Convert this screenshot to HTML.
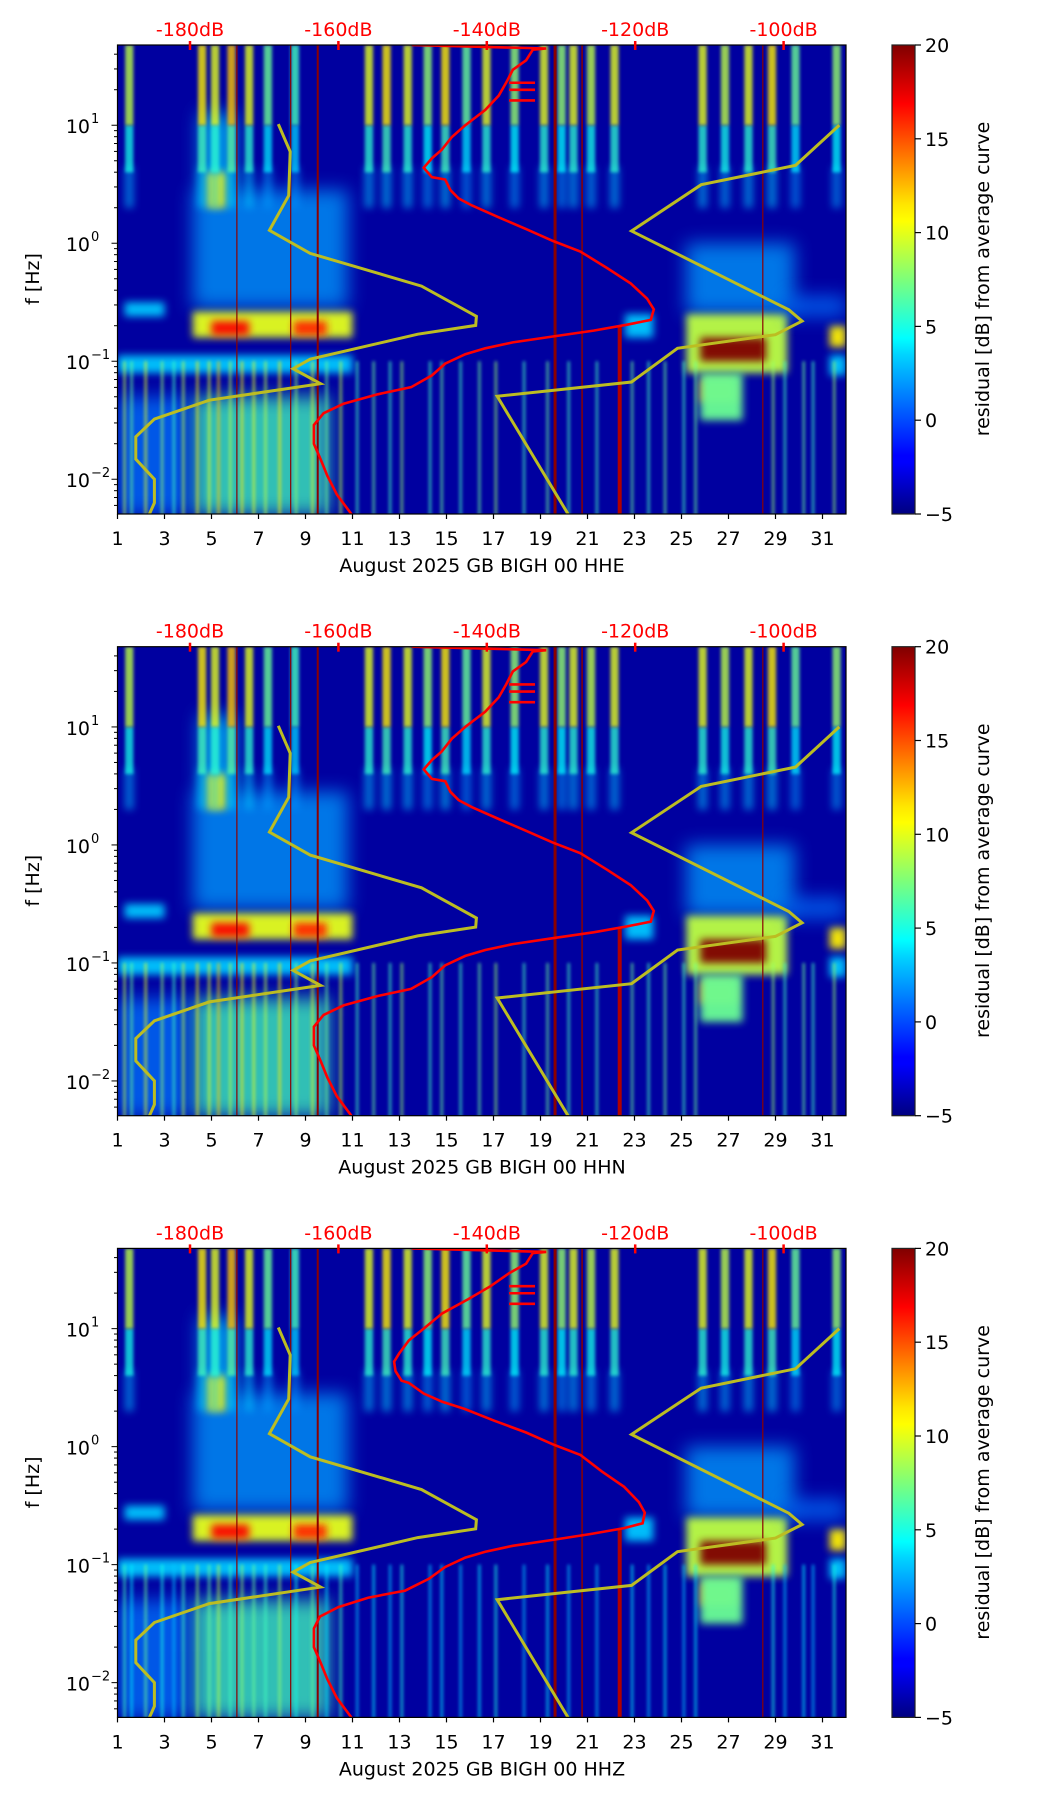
<!DOCTYPE html>
<html><head><meta charset="utf-8"><style>
html,body{margin:0;padding:0;background:#fff}
svg{display:block;font-family:"DejaVu Sans","Liberation Sans",sans-serif}
</style></head><body>
<svg id="chart" width="1052" height="1806" viewBox="0 0 1052 1806" xmlns="http://www.w3.org/2000/svg">
<defs>
<filter id="blurH" filterUnits="userSpaceOnUse" x="0" y="0" width="1052" height="1806"><feGaussianBlur stdDeviation="9"/></filter>
<filter id="blurM" filterUnits="userSpaceOnUse" x="0" y="0" width="1052" height="1806"><feGaussianBlur stdDeviation="4"/></filter>
<filter id="blurS" filterUnits="userSpaceOnUse" x="0" y="0" width="1052" height="1806"><feGaussianBlur stdDeviation="1.5"/></filter>
<linearGradient id="jet" x1="0" y1="1" x2="0" y2="0">
<stop offset="0" stop-color="#000080"/><stop offset="0.11" stop-color="#0000ff"/><stop offset="0.125" stop-color="#0000ff"/>
<stop offset="0.34" stop-color="#00d4ff"/><stop offset="0.375" stop-color="#00ffff"/><stop offset="0.5" stop-color="#7dff7a"/>
<stop offset="0.625" stop-color="#ffff00"/><stop offset="0.66" stop-color="#ffe600"/><stop offset="0.875" stop-color="#ff0000"/><stop offset="1" stop-color="#800000"/>
</linearGradient>
</defs>
</svg>
<script>
// ---- data ----
const channels = ["HHE", "HHN", "HHZ"];
const dayTicks = [1,3,5,7,9,11,13,15,17,19,21,23,25,27,29,31];
const dbTicks = [-180,-160,-140,-120,-100];
const freqDecades = [1,0,-1,-2];
const cbTicks = [-5,0,5,10,15,20];
// high-frequency cultural noise streaks (days, residual dB)
const topStreakDays = [1.5,4.6,5.15,5.85,6.6,7.4,8.55,11.7,12.45,13.35,14.2,14.95,15.85,16.7,17.9,19.15,19.9,20.4,21.15,22.15,25.9,26.85,27.85,28.85,29.85,31.6];
const topStreakVals = [9,11,10,12,10,7,6,10,11,10,8,11,7,10,8,10,8,10,9,10,10,9,10,11,7,8];
// low-frequency thin streaks
const lowStreakDays = [1.3,1.6,2.2,2.9,3.4,3.8,4.4,4.9,5.3,5.8,6.3,6.8,7.3,7.9,8.6,9.3,9.9,10.5,11.2,11.9,12.6,13.1,14.3,14.8,15.6,16.4,17.1,18.3,19.3,20.2,21.4,22.9,23.6,24.3,25.1,25.6,28.9,29.4,30.2,30.6,31.5];
const lowStreakVals = [9,7,10,8,6,9,11,10,12,9,11,10,9,11,8,10,7,9,6,7,6,8,6,7,6,7,8,6,7,6,6,7,6,7,6,7,8,6,7,6,8];
// residual blobs: day start, day end, log10 f low, log10 f high, residual dB
const blobDay0 = [4.2,4.5,4.8,1.3,1.0,4.2,5.0,8.5,4.2,1.0,25.2,25.2,25.8,25.8,25.8,31.3,31.3,22.6,29.5];
const blobDay1 = [10.8,6.0,5.6,3.0,11.0,11.0,6.6,9.9,10.0,4.0,29.8,29.5,28.6,27.3,27.6,32.0,32.0,23.8,32.0];
const blobF0 =   [-0.55,0.4,0.3,-0.62,-1.1,-0.8,-0.78,-0.78,-2.3,-2.3,-0.6,-1.1,-1.0,-1.35,-1.5,-0.88,-1.12,-0.8,-0.62];
const blobF1 =   [0.45,1.1,0.6,-0.5,-0.95,-0.58,-0.66,-0.66,-1.3,-1.3,0.0,-0.6,-0.8,-1.15,-1.1,-0.7,-0.95,-0.6,-0.45];
const blobVal =  [2,3,11,3,3,10,17,16,6,1,2,9,21,14,7,11,3,3,1];
const blobBlur = ["H","H","M","M","M","M","M","M","H","H","H","M","M","M","M","M","M","M","H"];
// dark red vertical artefact lines
const lineDays = [6.08,8.37,9.52,19.62,20.77,28.46];
const lineWidths = [1.2,1.2,2,3,1.5,1.2];
// NLNM / NHNM (dB, log10 f)
const nlnmDb = [-168.1,-166.5,-166.7,-169.3,-163.8,-148.8,-141.4,-141.5,-149.3,-163.8,-166.1,-162.4,-177.4,-184.8,-187.3,-187.3,-184.8,-184.8,-185.5];
const nlnmF =  [1.01,0.777,0.404,0.11,-0.086,-0.363,-0.619,-0.696,-0.771,-0.983,-1.063,-1.19,-1.33,-1.49,-1.64,-1.83,-2.0,-2.2,-2.3];
const nhnmDb = [-92.5,-98.4,-111.1,-120.5,-99.3,-97.5,-101.1,-114.3,-120.5,-138.6,-129.0];
const nhnmF =  [1.0,0.66,0.496,0.104,-0.564,-0.66,-0.775,-0.89,-1.176,-1.297,-2.3];
// mean PSD curves (dB, log10 f)
const psdDb = [-150.1,-132.0,-133.8,-134.7,-136.5,-137.4,-138.4,-140.2,-142.9,-144.7,-146.1,-147.4,-148.5,-147.4,-145.6,-144.9,-143.8,-142.0,-138.4,-134.7,-131.1,-127.4,-123.8,-120.6,-118.4,-117.5,-117.9,-121.1,-125.6,-131.1,-136.5,-140.2,-142.9,-145.6,-147.4,-150.2,-154.7,-159.3,-162.0,-163.3,-163.3,-162.4,-161.5,-160.2,-158.2];
const psdF =  [1.68,1.65,1.64,1.55,1.47,1.36,1.25,1.13,1.0,0.90,0.79,0.72,0.64,0.56,0.54,0.45,0.38,0.32,0.22,0.12,0.02,-0.07,-0.21,-0.34,-0.47,-0.56,-0.65,-0.69,-0.74,-0.79,-0.84,-0.89,-0.94,-1.02,-1.12,-1.22,-1.28,-1.36,-1.44,-1.54,-1.70,-1.83,-1.97,-2.13,-2.30];
const psdZDb = [-150.1,-132.0,-133.8,-134.7,-137.0,-139.5,-142.5,-146,-148.5,-150.5,-151.8,-152.5,-152.3,-151.5,-150.5,-148.5,-146,-143,-139,-134.7,-131.1,-127.4,-124.5,-121.5,-119.5,-118.7,-119.0,-121.5,-126,-131.1,-136.5,-140.2,-142.9,-145.6,-147.8,-151,-156,-160,-162.5,-163.3,-163.3,-162.4,-161.5,-160.2,-158.2];
const psdSteps = [1.36,1.30,1.21];

// ---- helpers ----
const NS = "http://www.w3.org/2000/svg";
const svg = document.getElementById("chart");
const X0 = 117.5, X1 = 846, D0 = 1, D1 = 32;
const PH = 469, LOGTOP = 1.68, LOGBOT = 1.68 - 469/118;
const tops = [45, 646.7, 1248.4];
function xDay(d){ return X0 + (d - D0) / (D1 - D0) * (X1 - X0); }
function xDb(db){ return 190 + (db + 180) * 7.42; }
function yF(T, lf){ return T + (LOGTOP - lf) / (LOGTOP - LOGBOT) * PH; }
function jet(v){
  const t = Math.max(0, Math.min(1, (v + 5) / 25));
  const c = k => Math.round(255 * Math.max(0, Math.min(1, 1.5 - Math.abs(4 * t - k))));
  return `rgb(${c(3)},${c(2)},${c(1)})`;
}
function mk(tag, attrs, parent){
  const e = document.createElementNS(NS, tag);
  for (const k in attrs) e.setAttribute(k, attrs[k]);
  (parent || svg).appendChild(e);
  return e;
}

channels.forEach((ch, p) => {
  const T = tops[p];
  const g = mk("g", {});
  
  
  const cp = mk("clipPath", {id: "clip" + p}, svg);
  mk("rect", {x: X0, y: T, width: X1 - X0, height: PH}, cp);
  const plot = mk("g", {"clip-path": `url(#clip${p})`}, g);
  
  
  const bg = mk("rect", {x: X0, y: T, width: X1 - X0, height: PH, fill: "#0000a0"}, plot);
  
  

  blobDay0.forEach((d0, i) => {
    const r = mk("rect", {x: xDay(d0), y: yF(T, blobF1[i]), width: xDay(blobDay1[i]) - xDay(d0),
      height: yF(T, blobF0[i]) - yF(T, blobF1[i]), fill: jet(blobVal[i]), filter: `url(#blur${blobBlur[i]})`,
      opacity: blobBlur[i] === "H" ? 0.75 : 0.95}, plot);
    
    
  });
  lowStreakDays.forEach((d, i) => {
    const v = p === 2 ? lowStreakVals[i] - 3 : lowStreakVals[i];
    const r = mk("rect", {x: xDay(d) - 1.2, y: yF(T, -1.0), width: 2.4, height: yF(T, -2.4) - yF(T, -1.0),
      fill: jet(v), filter: "url(#blurS)", opacity: 0.7}, plot);
    
    
  });
  topStreakDays.forEach((d, i) => {
    const w = xDay(d + 0.35) - xDay(d);
    const fade = mk("rect", {x: xDay(d) - w / 2, y: yF(T, 0.65), width: w, height: yF(T, 0.3) - yF(T, 0.65),
      fill: jet(topStreakVals[i] * 0.3), filter: "url(#blurM)", opacity: 0.6}, plot);
    
    
    const mid = mk("rect", {x: xDay(d) - w / 2, y: yF(T, 1.0), width: w, height: yF(T, 0.6) - yF(T, 1.0),
      fill: jet(topStreakVals[i] * 0.55), filter: "url(#blurS)", opacity: 0.75}, plot);
    
    
    const r = mk("rect", {x: xDay(d) - w / 2, y: T, width: w, height: yF(T, 1.0) - T,
      fill: jet(topStreakVals[i]), filter: "url(#blurS)", opacity: 0.8}, plot);
    
    
  });
  lineDays.forEach((d, i) => {
    const l = mk("line", {x1: xDay(d), x2: xDay(d), y1: T, y2: T + PH, stroke: "#8b0000", "stroke-width": lineWidths[i]}, plot);
    
    
  });
  const gl = mk("line", {x1: xDay(22.37), x2: xDay(22.37), y1: yF(T, -0.7), y2: T + PH, stroke: "#b00000", "stroke-width": 4}, plot);
  
  

  // noise models
  const pts = (dbs, fs) => dbs.map((db, i) => `${xDb(db).toFixed(1)},${yF(T, fs[i]).toFixed(1)}`).join(" ");
  const nl = mk("polyline", {points: pts(nlnmDb, nlnmF), fill: "none", stroke: "#bcbd22", "stroke-width": 3}, plot);
  
  
  const nh = mk("polyline", {points: pts(nhnmDb, nhnmF), fill: "none", stroke: "#bcbd22", "stroke-width": 3}, plot);
  
  
  const pd = mk("polyline", {points: pts(p === 2 ? psdZDb : psdDb, psdF), fill: "none", stroke: "#ff0000", "stroke-width": 2.6}, plot);
  
  
  psdSteps.forEach(lf => {
    const s = mk("line", {x1: xDb(-137), x2: xDb(-133.5), y1: yF(T, lf), y2: yF(T, lf), stroke: "#ff0000", "stroke-width": 2.6}, plot);
    
    
  });

  // frame
  const fr = mk("rect", {x: X0, y: T, width: X1 - X0, height: PH, fill: "none", stroke: "#000", "stroke-width": 1.2}, g);
  
  

  // x ticks
  dayTicks.forEach(d => {
    const x = xDay(d);
    const t = mk("line", {x1: x, x2: x, y1: T + PH, y2: T + PH + 5, stroke: "#000", "stroke-width": 1.2}, g);
    
    
    const lb = mk("text", {x: x, y: T + PH + 31, "font-size": 19, "text-anchor": "middle", fill: "#000"}, g);
    lb.textContent = d;
    
    
  });
  const xl = mk("text", {x: 482, y: T + PH + 58, "font-size": 19, "text-anchor": "middle", fill: "#000"}, g);
  xl.textContent = "August 2025 GB BIGH 00 " + ch;
  
  

  // dB top ticks
  dbTicks.forEach(db => {
    const x = xDb(db);
    const t = mk("line", {x1: x, x2: x, y1: T - 4, y2: T + 5, stroke: "#ff0000", "stroke-width": 2.5}, g);
    
    
    const lb = mk("text", {x: x, y: T - 9, "font-size": 19, "text-anchor": "middle", fill: "#ff0000"}, g);
    lb.textContent = "-" + Math.abs(db) + "dB";
    
    
  });

  // y ticks
  for (let dec = -3; dec <= 1; dec++) {
    for (let m = 1; m <= 9; m++) {
      const lf = dec + Math.log10(m);
      if (lf > LOGTOP || lf < LOGBOT) continue;
      const y = yF(T, lf);
      const t = mk("line", {x1: X0, x2: X0 - (m === 1 ? 6 : 3.5), y1: y, y2: y, stroke: "#000", "stroke-width": 1}, g);
      
      
    }
  }
  freqDecades.forEach(dec => {
    const y = yF(T, dec);
    const lb = mk("text", {x: 90, y: y + 8, "font-size": 19, "text-anchor": "end", fill: "#000"}, g);
    lb.textContent = "10";
    
    
    const sp = mk("text", {x: 91, y: y - 2, "font-size": 13, "text-anchor": "start", fill: "#000"}, g);
    sp.textContent = dec < 0 ? "\u2212" + Math.abs(dec) : String(dec);
    
    
  });
  const yl = mk("text", {x: 0, y: 0, "font-size": 19, "text-anchor": "middle", fill: "#000",
    transform: `translate(39,${T + 234}) rotate(-90)`}, g);
  yl.textContent = "f [Hz]";
  
  

  // colorbar
  const cb = mk("rect", {x: 892, y: T, width: 23, height: PH, fill: "url(#jet)", stroke: "#222", "stroke-width": 1.2}, g);
  
  
  cbTicks.forEach(v => {
    const y = T + PH - (v + 5) / 25 * PH;
    const t = mk("line", {x1: 915, x2: 921, y1: y, y2: y, stroke: "#000", "stroke-width": 1.2}, g);
    
    
    const lb = mk("text", {x: 925, y: y + 7, "font-size": 19, fill: "#000"}, g);
    lb.textContent = v < 0 ? "\u2212" + Math.abs(v) : String(v);
    
    
  });
  const cl = mk("text", {x: 0, y: 0, "font-size": 19, "text-anchor": "middle", fill: "#000",
    transform: `translate(989,${T + 234}) rotate(-90)`}, g);
  cl.textContent = "residual [dB] from average curve";
  
  
});
</script>
</body></html>
